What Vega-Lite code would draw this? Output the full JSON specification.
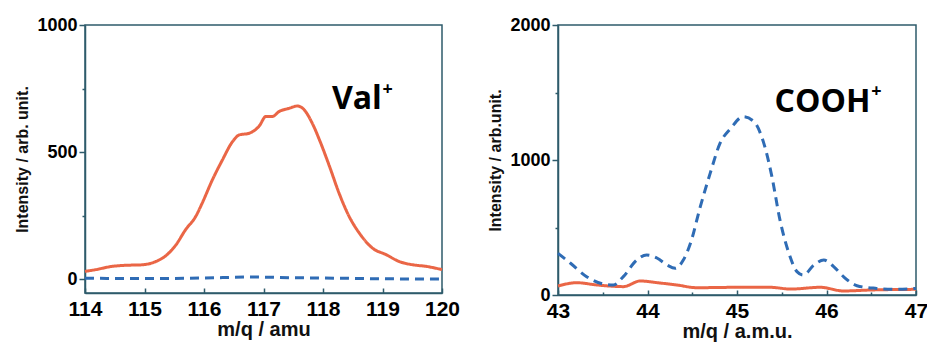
{
  "$schema": "https://vega.github.io/schema/vega-lite/v6.json",
  "background": "white",
  "padding": {"left": 14, "top": 15, "right": 0, "bottom": 2},
  "autosize": {"type": "pad"},
  "spacing": 116,
  "bounds": "flush",
  "config": {
    "view": {"stroke": "#2e5b6b", "strokeWidth": 1.5},
    "axis": {
      "grid": false,
      "domainColor": "#2e5b6b",
      "domainWidth": 1.5,
      "tickColor": "#2e5b6b",
      "tickWidth": 1.5,
      "labelColor": "black",
      "labelFont": "Liberation Sans",
      "labelFontWeight": "bold",
      "titleFont": "Liberation Sans",
      "titleFontWeight": "bold",
      "titleColor": "#111111",
      "titleFontSize": 16
    }
  },
  "datasets": {
    "val": [
      {"series": "red", "mz": 114.00, "intensity": 30},
      {"series": "red", "mz": 114.18, "intensity": 37},
      {"series": "red", "mz": 114.46, "intensity": 50},
      {"series": "red", "mz": 114.68, "intensity": 54},
      {"series": "red", "mz": 114.96, "intensity": 56},
      {"series": "red", "mz": 115.19, "intensity": 69},
      {"series": "red", "mz": 115.36, "intensity": 92},
      {"series": "red", "mz": 115.53, "intensity": 135},
      {"series": "red", "mz": 115.69, "intensity": 194},
      {"series": "red", "mz": 115.86, "intensity": 246},
      {"series": "red", "mz": 115.97, "intensity": 299},
      {"series": "red", "mz": 116.14, "intensity": 390},
      {"series": "red", "mz": 116.31, "intensity": 469},
      {"series": "red", "mz": 116.48, "intensity": 541},
      {"series": "red", "mz": 116.59, "intensity": 567},
      {"series": "red", "mz": 116.76, "intensity": 574},
      {"series": "red", "mz": 116.93, "intensity": 603},
      {"series": "red", "mz": 117.04, "intensity": 640},
      {"series": "red", "mz": 117.15, "intensity": 640},
      {"series": "red", "mz": 117.26, "intensity": 659},
      {"series": "red", "mz": 117.43, "intensity": 672},
      {"series": "red", "mz": 117.57, "intensity": 681},
      {"series": "red", "mz": 117.66, "intensity": 672},
      {"series": "red", "mz": 117.82, "intensity": 613},
      {"series": "red", "mz": 117.94, "intensity": 548},
      {"series": "red", "mz": 118.11, "intensity": 443},
      {"series": "red", "mz": 118.27, "intensity": 338},
      {"series": "red", "mz": 118.44, "intensity": 246},
      {"series": "red", "mz": 118.61, "intensity": 181},
      {"series": "red", "mz": 118.83, "intensity": 122},
      {"series": "red", "mz": 119.06, "intensity": 96},
      {"series": "red", "mz": 119.28, "intensity": 69},
      {"series": "red", "mz": 119.51, "intensity": 56},
      {"series": "red", "mz": 119.73, "intensity": 50},
      {"series": "red", "mz": 120.00, "intensity": 37},
      {"series": "blue", "mz": 114.0, "intensity": 3},
      {"series": "blue", "mz": 115.0, "intensity": 2},
      {"series": "blue", "mz": 116.0, "intensity": 4},
      {"series": "blue", "mz": 116.8, "intensity": 8},
      {"series": "blue", "mz": 117.5, "intensity": 5},
      {"series": "blue", "mz": 118.0, "intensity": 4},
      {"series": "blue", "mz": 119.0, "intensity": 1},
      {"series": "blue", "mz": 120.0, "intensity": 0}
    ],
    "cooh": [
      {"series": "red", "mz": 43.00, "intensity": 67},
      {"series": "red", "mz": 43.21, "intensity": 91},
      {"series": "red", "mz": 43.44, "intensity": 74},
      {"series": "red", "mz": 43.73, "intensity": 62},
      {"series": "red", "mz": 43.92, "intensity": 104},
      {"series": "red", "mz": 44.11, "intensity": 91},
      {"series": "red", "mz": 44.33, "intensity": 74},
      {"series": "red", "mz": 44.55, "intensity": 54},
      {"series": "red", "mz": 45.00, "intensity": 57},
      {"series": "red", "mz": 45.37, "intensity": 57},
      {"series": "red", "mz": 45.60, "intensity": 44},
      {"series": "red", "mz": 45.93, "intensity": 57},
      {"series": "red", "mz": 46.19, "intensity": 30},
      {"series": "red", "mz": 46.49, "intensity": 37},
      {"series": "red", "mz": 47.00, "intensity": 42},
      {"series": "blue", "mz": 43.00, "intensity": 309},
      {"series": "blue", "mz": 43.14, "intensity": 235},
      {"series": "blue", "mz": 43.32, "intensity": 136},
      {"series": "blue", "mz": 43.51, "intensity": 81},
      {"series": "blue", "mz": 43.62, "intensity": 74},
      {"series": "blue", "mz": 43.73, "intensity": 136},
      {"series": "blue", "mz": 43.88, "intensity": 259},
      {"series": "blue", "mz": 43.99, "intensity": 296},
      {"series": "blue", "mz": 44.11, "intensity": 272},
      {"series": "blue", "mz": 44.22, "intensity": 222},
      {"series": "blue", "mz": 44.31, "intensity": 198},
      {"series": "blue", "mz": 44.40, "intensity": 259},
      {"series": "blue", "mz": 44.48, "intensity": 383},
      {"series": "blue", "mz": 44.59, "intensity": 654},
      {"series": "blue", "mz": 44.70, "intensity": 901},
      {"series": "blue", "mz": 44.81, "intensity": 1123},
      {"series": "blue", "mz": 44.93, "intensity": 1235},
      {"series": "blue", "mz": 45.07, "intensity": 1321},
      {"series": "blue", "mz": 45.19, "intensity": 1284},
      {"series": "blue", "mz": 45.30, "intensity": 1123},
      {"series": "blue", "mz": 45.39, "intensity": 877},
      {"series": "blue", "mz": 45.48, "intensity": 556},
      {"series": "blue", "mz": 45.58, "intensity": 309},
      {"series": "blue", "mz": 45.67, "intensity": 173},
      {"series": "blue", "mz": 45.74, "intensity": 148},
      {"series": "blue", "mz": 45.86, "intensity": 222},
      {"series": "blue", "mz": 45.97, "intensity": 259},
      {"series": "blue", "mz": 46.08, "intensity": 210},
      {"series": "blue", "mz": 46.19, "intensity": 136},
      {"series": "blue", "mz": 46.34, "intensity": 69},
      {"series": "blue", "mz": 46.56, "intensity": 49},
      {"series": "blue", "mz": 46.79, "intensity": 42},
      {"series": "blue", "mz": 47.00, "intensity": 49}
    ],
    "valLabel": [
      {"label": "Val", "mz": 118.15, "intensity": 669, "kind": "main"},
      {"label": "+", "mz": 119.0, "intensity": 725, "kind": "sup"}
    ],
    "coohLabel": [
      {"label": "COOH", "mz": 45.42, "intensity": 1356, "kind": "main"},
      {"label": "+", "mz": 46.5, "intensity": 1470, "kind": "sup"}
    ]
  },
  "hconcat": [
    {
      "width": 357,
      "height": 268,
      "layer": [
        {
          "data": {"name": "val"},
          "mark": {"type": "line", "strokeWidth": 3, "interpolate": "monotone"},
          "encoding": {
            "x": {"field": "mz", "type": "quantitative",
              "scale": {"domain": [114, 120], "nice": false, "zero": false},
              "axis": {"values": [114, 114.5, 115, 115.5, 116, 116.5, 117, 117.5, 118, 118.5, 119, 119.5, 120],
                "labelExpr": "datum.value % 1 === 0 ? format(datum.value, 'd') : ''",
                "tickSize": {"condition": {"test": "datum.value % 1 !== 0", "value": -3}, "value": -5},
                "labelPadding": 10, "labelFontSize": 21, "title": "m/q / amu", "titleFontSize": 20, "titlePadding": 0, "labelFlush": false}},
            "y": {"field": "intensity", "type": "quantitative",
              "scale": {"domain": [-55, 1000], "nice": false, "zero": false},
              "axis": {"values": [0, 250, 500, 750, 1000],
                "labelExpr": "datum.value % 500 === 0 ? format(datum.value, 'd') : ''",
                "tickSize": {"condition": {"test": "datum.value % 500 !== 0", "value": 3}, "value": 6},
                "labelPadding": 2, "labelFontSize": 18, "title": "Intensity / arb. unit.", "titlePadding": 6}},
            "color": {"field": "series", "type": "nominal", "scale": {"domain": ["red", "blue"], "range": ["#ea6646", "#2f6cb5"]}, "legend": null},
            "strokeDash": {"field": "series", "type": "nominal", "scale": {"domain": ["red", "blue"], "range": [[1, 0], [9, 6]]}, "legend": null}
          }
        },
        {
          "data": {"name": "valLabel"},
          "mark": {"type": "text", "align": "left", "baseline": "alphabetic", "font": "Open Sans", "fontWeight": "bold", "color": "black"},
          "encoding": {
            "x": {"field": "mz", "type": "quantitative"},
            "y": {"field": "intensity", "type": "quantitative"},
            "text": {"field": "label"},
            "size": {"field": "kind", "type": "nominal", "scale": {"domain": ["main", "sup"], "range": [32, 18]}, "legend": null}
          }
        }
      ]
    },
    {
      "width": 358,
      "height": 270,
      "layer": [
        {
          "data": {"name": "cooh"},
          "mark": {"type": "line", "strokeWidth": 3, "interpolate": "monotone"},
          "encoding": {
            "x": {"field": "mz", "type": "quantitative",
              "scale": {"domain": [43, 47], "nice": false, "zero": false},
              "axis": {"values": [43, 43.5, 44, 44.5, 45, 45.5, 46, 46.5, 47],
                "labelExpr": "datum.value % 1 === 0 ? format(datum.value, 'd') : ''",
                "tickSize": {"condition": {"test": "datum.value % 1 !== 0", "value": -3}, "value": -5},
                "labelPadding": 10, "labelFontSize": 21, "title": "m/q / a.m.u.", "titleFontSize": 20, "titlePadding": 0, "labelFlush": false}},
            "y": {"field": "intensity", "type": "quantitative",
              "scale": {"domain": [0, 2000], "nice": false},
              "axis": {"values": [0, 500, 1000, 1500, 2000],
                "labelExpr": "datum.value % 1000 === 0 ? format(datum.value, 'd') : ''",
                "tickSize": {"condition": {"test": "datum.value % 1000 !== 0", "value": 3}, "value": 6},
                "labelPadding": 2, "labelFontSize": 18, "title": "Intensity / arb.unit.", "titlePadding": 6}},
            "color": {"field": "series", "type": "nominal", "scale": {"domain": ["red", "blue"], "range": ["#ea6646", "#2f6cb5"]}, "legend": null},
            "strokeDash": {"field": "series", "type": "nominal", "scale": {"domain": ["red", "blue"], "range": [[1, 0], [9, 6]]}, "legend": null}
          }
        },
        {
          "data": {"name": "coohLabel"},
          "mark": {"type": "text", "align": "left", "baseline": "alphabetic", "font": "Open Sans", "fontWeight": "bold", "color": "black"},
          "encoding": {
            "x": {"field": "mz", "type": "quantitative"},
            "y": {"field": "intensity", "type": "quantitative"},
            "text": {"field": "label"},
            "size": {"field": "kind", "type": "nominal", "scale": {"domain": ["main", "sup"], "range": [32, 18]}, "legend": null}
          }
        }
      ]
    }
  ]
}
